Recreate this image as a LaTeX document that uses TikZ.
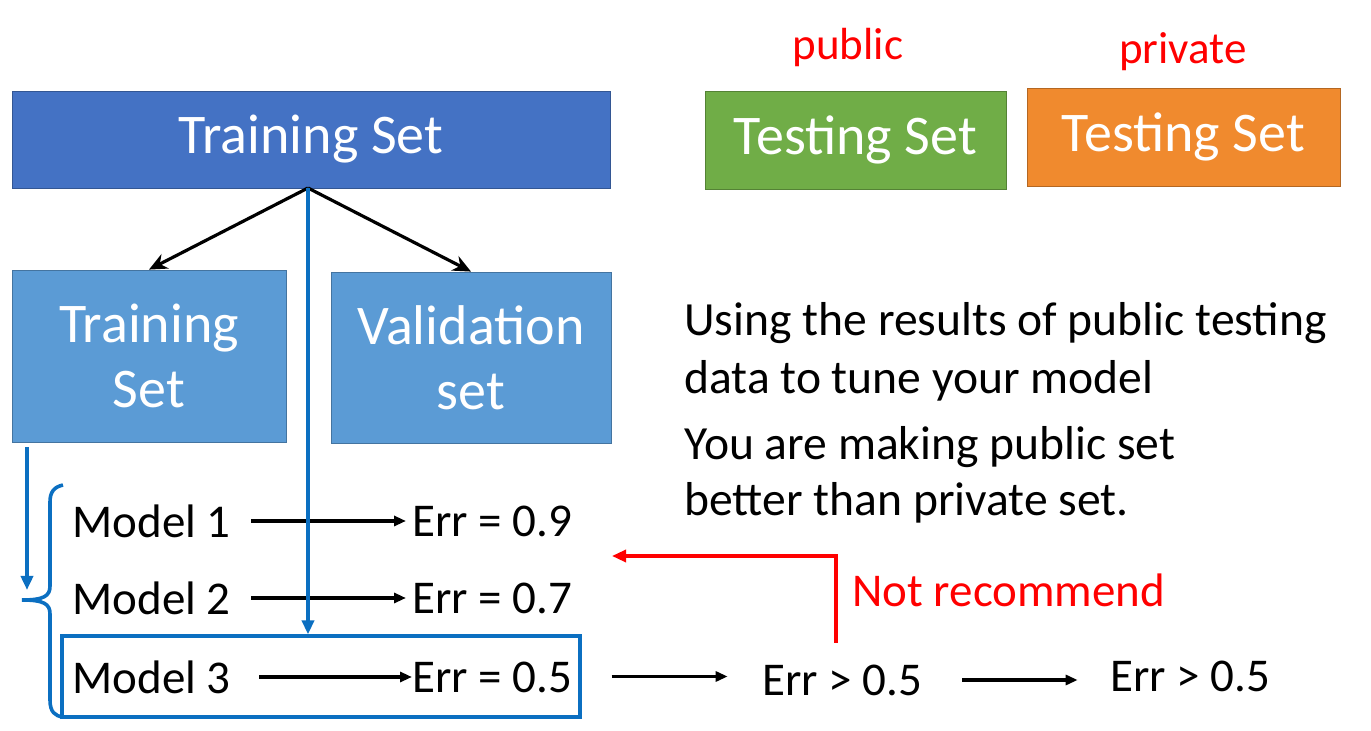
\documentclass[tikz,border=0pt]{standalone}
\usepackage{fontspec}
\setmainfont{Carlito}
\usetikzlibrary{arrows.meta,calc}
\definecolor{darkset}{HTML}{4472C4}
\definecolor{lightset}{HTML}{5B9BD5}
\definecolor{pubset}{HTML}{70AD47}
\definecolor{privset}{HTML}{F08A2E}
\definecolor{linea}{HTML}{0B6FC1}
\begin{document}
\begin{tikzpicture}[x=0.5pt,y=-0.5pt,
  box/.style={draw=#1!75!black,fill=#1,text=white,align=center,inner sep=0pt,
    font=\fontsize{28}{32.5}\selectfont},
  testo/.style={inner sep=0pt,font=\fontsize{23.5}{28}\selectfont},
  freccia/.style={line width=1.8pt,-{Triangle[length=6pt,width=5pt]}},
  blu/.style={draw=linea,line width=1.8pt}]

\useasboundingbox (0,0) rectangle (1371,731);

%Insiemi
\node[box=darkset,minimum width=299pt,minimum height=48.5pt] (train) at (311,139.5) {Training Set};
\node[box=pubset,minimum width=150.5pt,minimum height=49pt] (pub) at (855.5,140) {Testing Set};
\node[box=privset,minimum width=156.5pt,minimum height=49pt] (priv) at (1183.5,137) {Testing Set};
\node[red,inner sep=0pt,font=\fontsize{22.5}{26}\selectfont] at (848,48) {public};
\node[red,inner sep=0pt,font=\fontsize{22.5}{26}\selectfont] at (1183,52) {private};

\node[box=lightset,minimum width=137pt,minimum height=86pt] (sub) at (149,356) {Training\\Set};
\node[box=lightset,minimum width=140pt,minimum height=85.5pt] (valid) at (471,357.5) {Validation\\set};

\coordinate (o) at (308,188);
\draw[line width=1.6pt,-{Stealth[length=9pt,width=8pt]}] (o) -- (sub.north);
\draw[line width=1.6pt,-{Stealth[length=9pt,width=8pt]}] (o) -- (valid.north);

%Modelli
\node[draw=linea,line width=1.6pt,minimum width=259pt,minimum height=40.5pt] (m3box) at (321,676.5) {};
\foreach \i/\y/\e in {1/521/0.9,2/598/0.7,3/677/0.5}{
  \node[testo,anchor=west] (m\i) at (72,\y) {Model \i};
  \node[testo,anchor=west] (e\i) at (412,\y) {Err = \e};
}
\draw[freccia] ($(m1.east)+(20,0)$) -- ($(e1.west)+(-6,0)$);
\draw[freccia] ($(m2.east)+(20,0)$) -- ($(e2.west)+(-6,0)$);
\draw[freccia] ($(m3.east)+(28,0)$) -- (e3.west);

\draw[blu,-{Triangle[length=7pt,width=6pt]}] (o) -- (o |- m3box.north);
\coordinate (s) at (27,447);
\draw[blu,-{Triangle[length=7pt,width=6pt]}] (s) -- +(0,143);

%Graffa
\draw[blu] (63,485) .. controls (54,487) and (50,492) .. (50,502) -- (50,586)
  .. controls (50,596) and (44,600) .. (22,600)
  .. controls (44,600) and (50,604) .. (50,614) -- (50,700)
  .. controls (50,712) and (55,716) .. (63,717);

%Test
\node[testo] (e4) at (842,680) {Err > 0.5};
\node[testo] (e5) at (1190,676) {Err > 0.5};
\draw[freccia,shorten <=15pt,shorten >=17pt] (m3box.east) -- (m3box.east -| e4.west);
\draw[freccia,shorten <=20pt,shorten >=16pt] (e4.east) -- (e4.east -| e5.west);

\coordinate (r) at (836,643);
\node[testo,red,anchor=west] (no) at (852,590) {Not recommend};
\draw[red,line width=1.6pt,-{Triangle[length=7pt,width=6pt]}] (r) |- (612,556);

\node[inner sep=0pt,anchor=west,align=left,font=\fontsize{23.8}{29}\selectfont] (t1) at (684,352)
  {Using the results of public testing\\data to tune your model};
\node[inner sep=0pt,anchor=west,align=left,font=\fontsize{23.8}{28}\selectfont] (t2) at (684,475)
  {You are making public set\\better than private set.};

\end{tikzpicture}
\end{document}
